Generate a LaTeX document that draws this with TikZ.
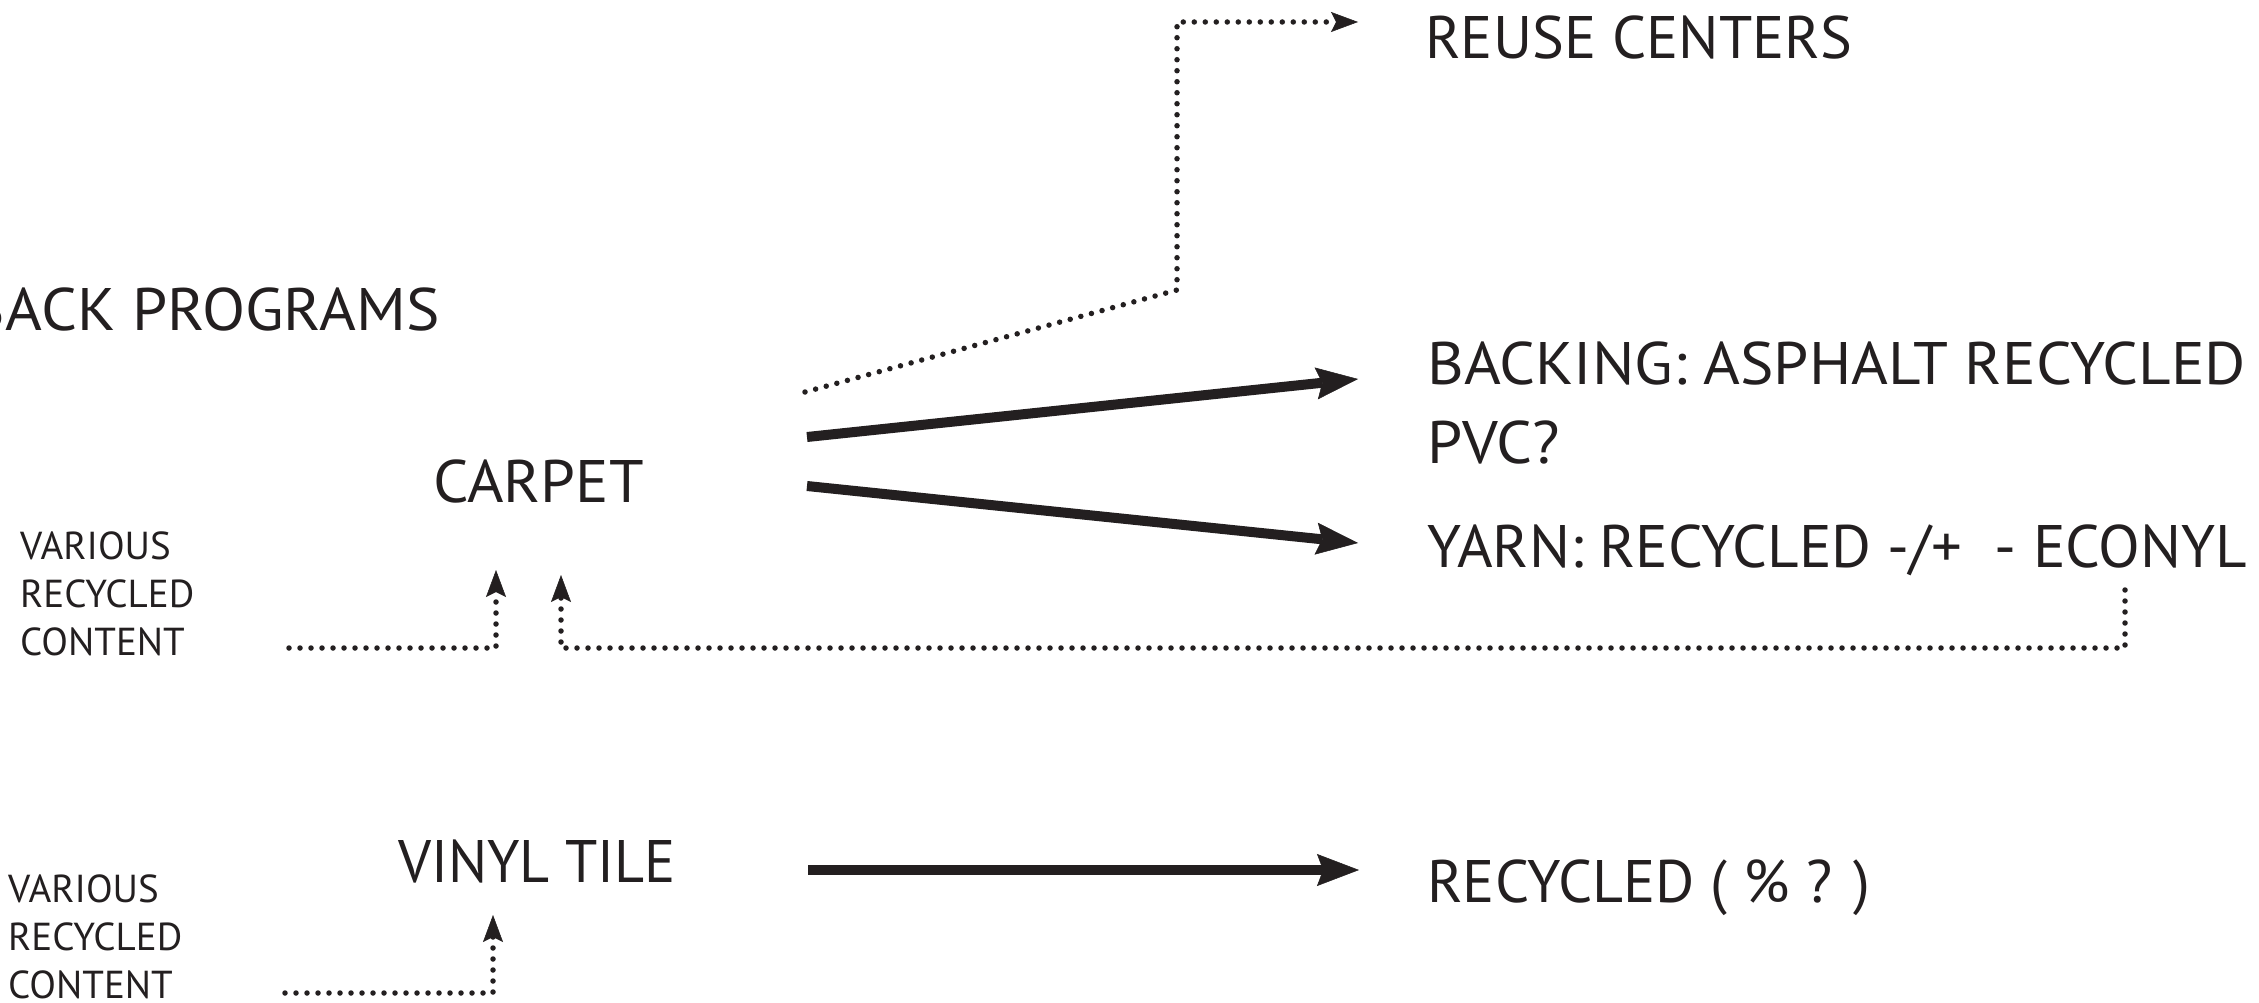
\documentclass[tikz,border=0pt]{standalone}
\usepackage{fontspec}
\usepackage{graphicx}
\setmainfont{PT Sans}
\usetikzlibrary{arrows.meta}
\definecolor{ink}{RGB}{35,31,32}
\newcommand{\wide}[2]{\scalebox{#1}[1]{#2}}
\begin{document}
\begin{tikzpicture}[x=1pt,y=-1pt,
  big/.style={font=\fontsize{60}{79}\selectfont, inner sep=0pt, text=ink, align=left},
  small/.style={font=\fontsize{39}{48}\selectfont, inner sep=0pt, text=ink, align=left},
  dots/.style={draw=ink, line width=5.5pt, line cap=round, dash pattern=on 0pt off 11pt,
    -{Stealth[length=27pt,width=20pt,inset=5pt,line width=0.5pt]}},
  heavy/.style={draw=ink, line width=10pt,
    -{Stealth[length=42pt,width=32pt,inset=6pt,line width=0.5pt]}}]
\useasboundingbox (0,0) rectangle (2259,1003);
\clip (0,0) rectangle (2259,1003);
\fill[white] (0,0) rectangle (2259,1003);

% texts
\node[big, anchor=base west] (reuse) at (1425,59) {REUSE CENTERS};
\node[big, anchor=base east] (take) at (440,330) {\wide{1.05}{BACK PROGRAMS}};
\node[big, anchor=north west] (backing) at (1427,342) {\wide{1.05}{BACKING: ASPHALT RECYCLED}\\\wide{1.05}{PVC?}};
\node[big, anchor=base west] (carpet) at (433,502) {\wide{1.04}{CARPET}};
\node[big, anchor=base west] (yarn) at (1427,567) {\wide{1.016}{YARN: RECYCLED -/+\ \ - ECONYL}};
\node[small, anchor=north west] (var1) at (20,532) {VARIOUS\\RECYCLED\\CONTENT};
\node[big, anchor=base west] (vinyl) at (398,882) {\wide{0.97}{VINYL TILE}};
\node[big, anchor=base west] (recyc) at (1427,902) {RECYCLED ( \% ? )};
\node[small, anchor=north west] (var2) at (8,875) {VARIOUS\\RECYCLED\\CONTENT};

% connector points
\coordinate (cA) at (805,392);
\coordinate (cB) at (1177,290);
\coordinate (cC) at (1177,22);
\coordinate (cD) at (1358,22);
\coordinate (t1a) at (807,437);
\coordinate (t1b) at (1358,379);
\coordinate (t2a) at (807,486);
\coordinate (t2b) at (1358,543);
\coordinate (l1a) at (289,648);
\coordinate (l1b) at (496,648);
\coordinate (l1c) at (496,570);
\coordinate (r1a) at (2125,590);
\coordinate (r1b) at (2125,648);
\coordinate (r1c) at (561,648);
\coordinate (r1d) at (561,575);
\coordinate (b1a) at (285,993);
\coordinate (b1b) at (493,993);
\coordinate (b1c) at (493,915);
\coordinate (t3a) at (808,870);
\coordinate (t3b) at (1359,870);

% connectors
\draw[dots] (cA) -- (cB) -- (cC) -- (cD);
\draw[heavy] (t1a) -- (t1b);
\draw[heavy] (t2a) -- (t2b);
\draw[dots] (l1a) -- (l1b) -- (l1c);
\draw[dots] (r1a) -- (r1b) -- (r1c) -- (r1d);
\draw[dots] (b1a) -- (b1b) -- (b1c);
\draw[heavy] (t3a) -- (t3b);
\end{tikzpicture}
\end{document}
